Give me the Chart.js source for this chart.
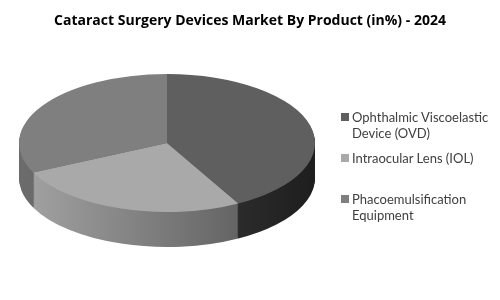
<!DOCTYPE html>
<html lang="en">
    <head>
        <meta charset="UTF-8">
        <title>Cataract Surgery Devices Market</title>
        <script src="https://cdn.jsdelivr.net/npm/chart.js"></script>
        <style>
            body { margin: 0; background: #fff; }
            #wrap { position: relative; width: 500px; height: 300px; }
            #leyenda { position: absolute; left: 341px; top: 109px; font-family: Lato, sans-serif; font-size: 13px; color: #404040; }
            .item { position: relative; height: 41px; padding-left: 11px; line-height: 16px; }
            .item span { position: absolute; left: 0; top: 4px; width: 8px; height: 8px; }
        </style>
    </head>
    <body>
        <div id="wrap">
            <canvas id="grafico" width="500" height="300"></canvas>
            <div id="leyenda"></div>
        </div>
        <script>
            const categorias = [
                ['Ophthalmic Viscoelastic', 'Device (OVD)'],
                ['Intraocular Lens (IOL)'],
                ['Phacoemulsification', 'Equipment']
            ];
            const valores = [42, 26, 32];
            const coloresTapa = ['#5f5f5f', '#a9a9a9', '#7f7f7f'];
            const coloresLado = [['#505050', '#1e1e1e'], ['#a4a4a4', '#4e4e4e'], ['#6c6c6c', '#4c4c4c']];

            // elipse del pastel en pantalla
            const CX = 167, CY = 143, RX = 148, RY = 69, PROF = 35;

            const pastel3d = {
                id: 'pastel3d',
                beforeDatasetsDraw(chart) {
                    const ctx = chart.ctx;
                    const arcos = chart.getDatasetMeta(0).data;
                    const cx = arcos[0].x, cy = arcos[0].y, r = arcos[0].outerRadius;
                    const dibujar = (dy, colores) => {
                        ctx.save();
                        ctx.translate(CX, CY + dy);
                        ctx.scale(RX / r, RY / r);
                        ctx.translate(-cx, -cy);
                        arcos.forEach((arco, i) => {
                            const copia = Object.create(arco);
                            copia.options = Object.assign({}, arco.options, { backgroundColor: colores(i), borderWidth: 0 });
                            copia.draw(ctx);
                        });
                        ctx.restore();
                    };
                    for (let d = PROF; d > 0; d--) {
                        dibujar(d, i => {
                            const g = ctx.createLinearGradient(cx - r, 0, cx + r, 0);
                            g.addColorStop(0, coloresLado[i][0]);
                            g.addColorStop(1, coloresLado[i][1]);
                            return g;
                        });
                    }
                    dibujar(0, i => coloresTapa[i]);
                    return false;
                }
            };

            const ctx = document.getElementById('grafico').getContext('2d');
            const grafico = new Chart(ctx, {
                type: 'pie',
                data: {
                    labels: categorias.map(c => c.join(' ')),
                    datasets: [{
                        data: valores,
                        backgroundColor: coloresTapa,
                        borderWidth: 0
                    }]
                },
                options: {
                    responsive: false,
                    animation: false,
                    plugins: {
                        legend: { display: false },
                        tooltip: { enabled: false },
                        title: {
                            display: true,
                            text: 'Cataract Surgery Devices Market By Product (in%) - 2024',
                            color: '#000',
                            font: { family: 'Open Sans', size: 14, weight: 'bold' },
                            padding: { top: 13, bottom: 10 }
                        }
                    }
                },
                plugins: [pastel3d]
            });

            const leyenda = document.getElementById('leyenda');
            categorias.forEach((c, i) => {
                const div = document.createElement('div');
                div.className = 'item';
                div.innerHTML = '<span style="background:' + coloresTapa[i] + '"></span>' + c.join('<br>');
                leyenda.appendChild(div);
            });
        </script>
    </body>
</html>
